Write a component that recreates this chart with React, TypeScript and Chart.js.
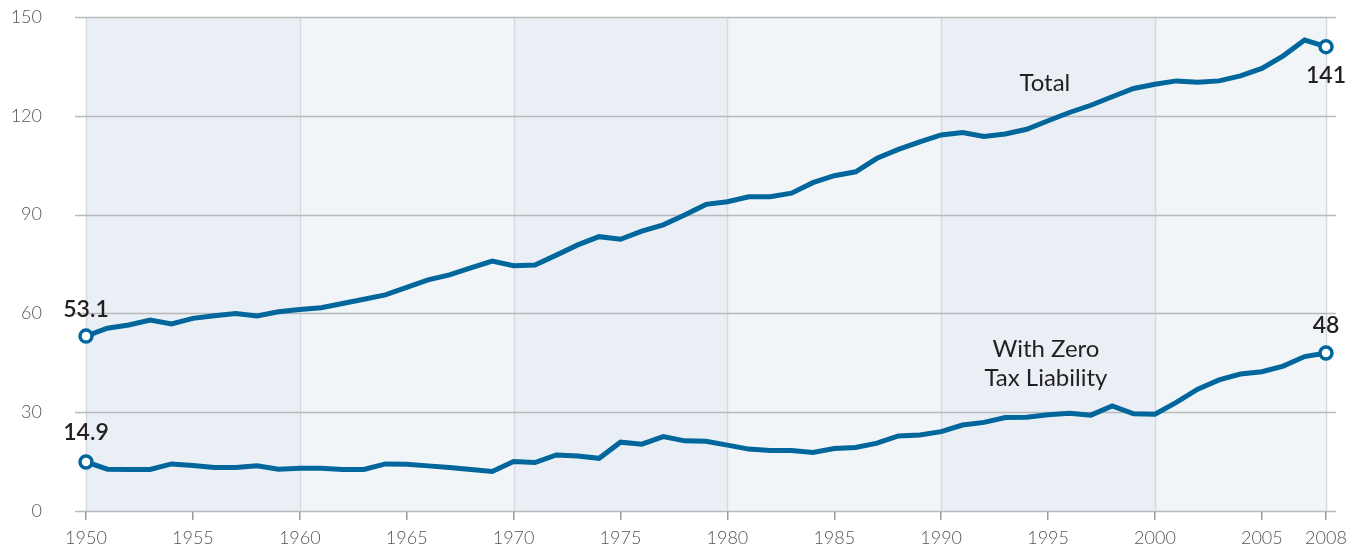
import React, { useEffect, useRef } from "react";
import { Chart, registerables } from "chart.js";

Chart.register(...registerables);

const years = [
  1950, 1951, 1952, 1953, 1954, 1955, 1956, 1957, 1958, 1959,
  1960, 1961, 1962, 1963, 1964, 1965, 1966, 1967, 1968, 1969,
  1970, 1971, 1972, 1973, 1974, 1975, 1976, 1977, 1978, 1979,
  1980, 1981, 1982, 1983, 1984, 1985, 1986, 1987, 1988, 1989,
  1990, 1991, 1992, 1993, 1994, 1995, 1996, 1997, 1998, 1999,
  2000, 2001, 2002, 2003, 2004, 2005, 2006, 2007, 2008,
];

const totalValues = [
  53.1, 55.5, 56.5, 58.0, 56.8, 58.5, 59.3, 60.0, 59.2, 60.5,
  61.2, 61.7, 63.0, 64.3, 65.6, 67.9, 70.2, 71.7, 73.8, 75.9,
  74.5, 74.7, 77.7, 80.8, 83.3, 82.5, 85.0, 86.9, 89.9, 93.1,
  93.9, 95.4, 95.4, 96.5, 99.7, 101.8, 103.0, 107.1, 109.8, 112.1,
  114.2, 114.9, 113.7, 114.5, 115.9, 118.5, 121.0, 123.2, 125.8, 128.3,
  129.6, 130.6, 130.2, 130.6, 132.1, 134.4, 138.2, 143.0, 141.0,
];

const zeroLiabilityValues = [
  14.9, 12.7, 12.6, 12.6, 14.3, 13.8, 13.2, 13.2, 13.7, 12.7,
  13.0, 13.0, 12.6, 12.6, 14.3, 14.2, 13.7, 13.2, 12.6, 12.0,
  15.0, 14.7, 17.0, 16.7, 16.0, 20.9, 20.3, 22.6, 21.3, 21.2,
  20.0, 18.8, 18.4, 18.4, 17.8, 19.0, 19.3, 20.6, 22.8, 23.1,
  24.1, 26.1, 26.9, 28.4, 28.5, 29.2, 29.7, 29.1, 31.9, 29.5,
  29.4, 33.0, 37.0, 39.8, 41.6, 42.3, 44.0, 46.9, 48.0,
];

const xTickYears = [1950, 1955, 1960, 1965, 1970, 1975, 1980, 1985, 1990, 1995, 2000, 2005, 2008];
const yTickValues = [0, 30, 60, 90, 120, 150];
const bandEdges = [1950, 1960, 1970, 1980, 1990, 2000, 2008];

const seriesLabels = ["Total", "With Zero Tax Liability"];
const endLabels = [
  { year: 1950, value: 53.1, text: "53.1", dy: -27 },
  { year: 2008, value: 141, text: "141", dy: 29 },
  { year: 1950, value: 14.9, text: "14.9", dy: -29 },
  { year: 2008, value: 48, text: "48", dy: -27 },
];
const seriesNames = [
  { year: 1994.85, value: 130, lines: ["Total"] },
  { year: 1994.9, value: 49.2, lines: ["With Zero", "Tax Liability"] },
];

const BLUE = "#00669c";
const FONT = "Lato, 'Open Sans', sans-serif";

const backgroundPlugin = {
  id: "bgBands",
  beforeDatasetsDraw(chart: any) {
    const { ctx, chartArea, scales } = chart;
    const xs = scales.x;
    const ys = scales.y;
    ctx.save();
    for (let i = 0; i < bandEdges.length - 1; i++) {
      const x0 = xs.getPixelForValue(bandEdges[i]);
      const x1 = xs.getPixelForValue(bandEdges[i + 1]);
      ctx.fillStyle = i % 2 === 0 ? "#e9eff4" : "#f1f5f7";
      ctx.fillRect(x0, chartArea.top, x1 - x0, chartArea.bottom - chartArea.top);
    }
    ctx.strokeStyle = "#d6dadf";
    ctx.lineWidth = 1.5;
    for (const e of bandEdges) {
      const x = Math.round(xs.getPixelForValue(e)) + 0.5;
      ctx.beginPath();
      ctx.moveTo(x, chartArea.top);
      ctx.lineTo(x, chartArea.bottom);
      ctx.stroke();
    }
    ctx.strokeStyle = "#b9b9bb";
    ctx.lineWidth = 1.3;
    for (const v of yTickValues) {
      const y = Math.round(ys.getPixelForValue(v)) + 0.5;
      ctx.beginPath();
      ctx.moveTo(chartArea.left - 11, y);
      ctx.lineTo(chartArea.right + 10, y);
      ctx.stroke();
    }
    ctx.restore();
  },
  afterDatasetsDraw(chart: any) {
    const { ctx, scales } = chart;
    const xs = scales.x;
    const ys = scales.y;
    ctx.save();
    ctx.fillStyle = "#231f20";
    ctx.textAlign = "center";
    ctx.textBaseline = "middle";
    ctx.font = `600 23px ${FONT}`;
    for (const l of endLabels) {
      ctx.fillText(l.text, xs.getPixelForValue(l.year), ys.getPixelForValue(l.value) + l.dy);
    }
    ctx.font = `400 24px ${FONT}`;
    for (const s of seriesNames) {
      const x = xs.getPixelForValue(s.year);
      const y = ys.getPixelForValue(s.value);
      s.lines.forEach((t, i) => ctx.fillText(t, x, y + i * 29));
    }
    ctx.restore();
  },
};

function pointRadius(ctx: any) {
  const i = ctx.dataIndex;
  return i === 0 || i === years.length - 1 ? 6 : 0;
}

export default function App() {
  const ref = useRef<HTMLCanvasElement | null>(null);
  useEffect(() => {
    if (!ref.current) return;
    const mk = (vals: number[], label: string) => ({
      label,
      data: years.map((y, i) => ({ x: y, y: vals[i] })),
      borderColor: BLUE,
      borderWidth: 5,
      backgroundColor: "#ffffff",
      pointBackgroundColor: "#ffffff",
      pointBorderColor: BLUE,
      pointBorderWidth: 3.5,
      pointRadius,
      pointHoverRadius: pointRadius,
      tension: 0,
      fill: false,
      clip: false as any,
    });
    const chart = new Chart(ref.current, {
      type: "line",
      data: {
        datasets: [mk(totalValues, seriesLabels[0]), mk(zeroLiabilityValues, seriesLabels[1])],
      },
      options: {
        animation: false,
        responsive: true,
        maintainAspectRatio: false,
        layout: { autoPadding: false, padding: { top: 17, right: 23, left: 0, bottom: 0 } },
        plugins: { legend: { display: false }, tooltip: { enabled: false } },
        scales: {
          x: {
            type: "linear",
            min: 1950,
            max: 2008,
            afterBuildTicks: (s: any) => {
              s.ticks = xTickYears.map((v) => ({ value: v }));
            },
            afterFit: (s: any) => {
              s.height = 34;
              s.paddingLeft = 0;
              s.paddingRight = 0;
            },
            grid: {
              display: true,
              drawOnChartArea: false,
              drawTicks: true,
              tickLength: 9,
              color: "#9a9a9a",
              lineWidth: 1.5,
            },
            border: { display: false },
            ticks: {
              autoSkip: false,
              maxRotation: 0,
              padding: 7,
              color: "#555555",
              font: { family: FONT, size: 18, weight: 300 as any },
              callback: (v: any) => String(v),
            },
          },
          y: {
            type: "linear",
            min: 0,
            max: 150,
            afterBuildTicks: (s: any) => {
              s.ticks = yTickValues.map((v) => ({ value: v }));
            },
            afterFit: (s: any) => {
              s.width = 86;
            },
            grid: {
              display: true,
              drawOnChartArea: false,
              drawTicks: true,
              tickLength: 44,
              color: "rgba(0,0,0,0)",
            },
            border: { display: false },
            ticks: {
              padding: 0,
              color: "#555555",
              font: { family: FONT, size: 18, weight: 300 as any },
              callback: (v: any) => String(v),
            },
          },
        },
      },
      plugins: [backgroundPlugin],
    });
    return () => chart.destroy();
  }, []);
  return (
    <div style={{ position: "fixed", left: 0, top: 0, width: 1349, height: 545, background: "#fff" }}>
      <canvas ref={ref} />
    </div>
  );
}
